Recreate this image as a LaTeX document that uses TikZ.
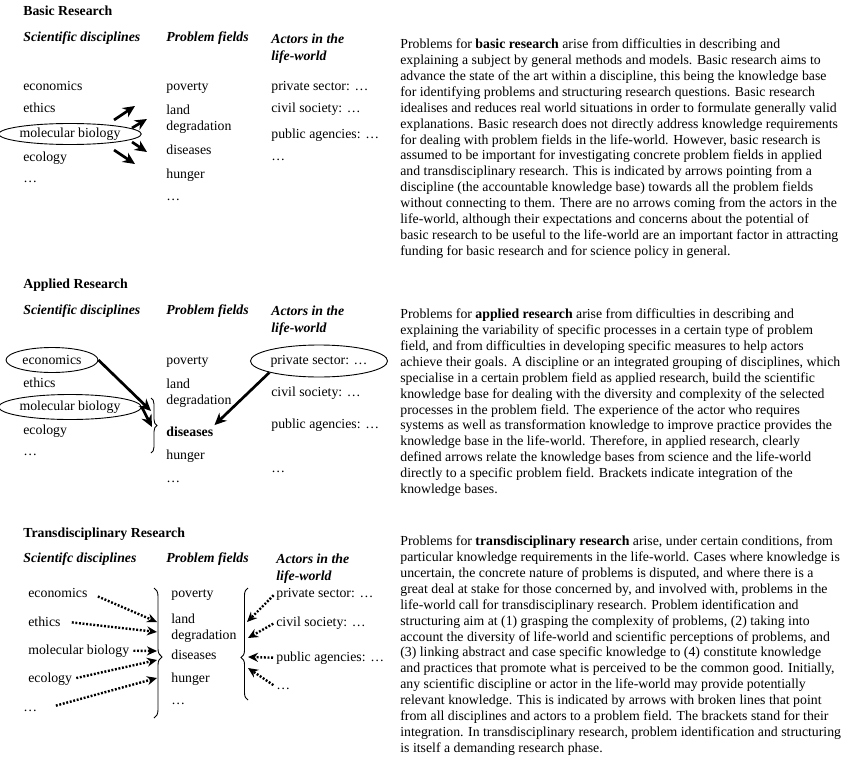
\documentclass[tikz,border=0pt]{standalone}
\usepackage{fontspec}
\setmainfont{Liberation Serif}
\usetikzlibrary{arrows.meta, positioning, shapes.geometric, decorations.pathreplacing}

\begin{document}
\begin{tikzpicture}[
                x = 1pt, y = -1pt, % measured from the top left corner
                > = {Stealth[length=12pt, width=11pt]}, % arrow head style
                shorten > = 0pt,
                line width = 2.7pt, % line style
                font = \fontsize{13.8}{15.9}\selectfont
                ]
                \tikzstyle{every node}=[inner sep=0pt, anchor=base west]
                \tikzstyle{title}=[font=\fontsize{13.8}{15.9}\selectfont\bfseries]
                \tikzstyle{head}=[font=\fontsize{13.8}{16.5}\selectfont\bfseries\itshape]
                \tikzstyle{twoline}=[align=left, anchor=north west]
                \tikzstyle{oval}=[draw, ellipse, line width=0.9pt, anchor=center]
                \tikzstyle{brace}=[decorate, line width=0.9pt]
                \tikzstyle{dotarrow}=[->, line width=2.4pt,
                    dash pattern=on 1.9pt off 1.7pt,
                    > = {Stealth[length=10pt, width=9pt]}]

                \useasboundingbox (0,0) rectangle (842,757);

                % basic research
                \node[title] (basic) at (22,16) {Basic Research};
                \node[head] (sd1) at (22,42) {Scientific disciplines};
                \node[head] (pf1) at (165,42) {Problem fields};
                \node[head, twoline] (al1) at (270,32.6) {Actors in the\\life-world};

                \node (econ1) at (22,91) {economics};
                \node (eth1) at (22,113) {ethics};
                \node[oval, minimum width=126pt, minimum height=21pt] (mb1) at (70,134) {molecular biology};
                \node (eco1) at (22,161) {ecology};
                \node (sdots1) at (22,182) {…};

                \node (pov1) at (165,91) {poverty};
                \node[twoline] (land1) at (165,103.6) {land\\degradation};
                \node (dis1) at (165,154) {diseases};
                \node (hun1) at (165,178) {hunger};
                \node (pdots1) at (165,200) {…};

                \node (priv1) at (270,91) {private sector: …};
                \node (civ1) at (270,113) {civil society: …};
                \node (pub1) at (270,138) {public agencies: …};
                \node (adots1) at (270,160) {…};

                \coordinate (b1s) at (114,120);
                \coordinate (b1e) at (135,106);
                \coordinate (b2s) at (132,128);
                \coordinate (b2e) at (147,119);
                \coordinate (b3s) at (132,142);
                \coordinate (b3e) at (147,152);
                \coordinate (b4s) at (114,150);
                \coordinate (b4e) at (135,164);
                \path[->] (b1s) edge (b1e)
                          (b2s) edge (b2e)
                          (b3s) edge (b3e)
                          (b4s) edge (b4e);

                \node[twoline] (txt1) at (399,37.6) {
                Problems for \textbf{basic research} arise from difficulties in describing and\\
                explaining a subject by general methods and models. Basic research aims to\\
                advance the state of the art within a discipline, this being the knowledge base\\
                for identifying problems and structuring research questions. Basic research\\
                idealises and reduces real world situations in order to formulate generally valid\\
                explanations. Basic research does not directly address knowledge requirements\\
                for dealing with problem fields in the life-world. However, basic research is\\
                assumed to be important for investigating concrete problem fields in applied\\
                and transdisciplinary research. This is indicated by arrows pointing from a\\
                discipline (the accountable knowledge base) towards all the problem fields\\
                without connecting to them. There are no arrows coming from the actors in the\\
                life-world, although their expectations and concerns about the potential of\\
                basic research to be useful to the life-world are an important factor in attracting\\
                funding for basic research and for science policy in general.};

                % applied research
                \node[title] (applied) at (22,288) {Applied Research};
                \node[head] (sd2) at (22,314) {Scientific disciplines};
                \node[head] (pf2) at (165,314) {Problem fields};
                \node[head, twoline] (al2) at (270,304.6) {Actors in the\\life-world};

                \node[oval, minimum width=92pt, minimum height=25pt] (econ2) at (52,360) {economics};
                \node (eth2) at (22,387) {ethics};
                \node[oval, minimum width=128pt, minimum height=25pt] (mb2) at (70,407) {molecular biology};
                \node (eco2) at (22,434) {ecology};
                \node (sdots2) at (22,455) {…};

                \node (pov2) at (165,364) {poverty};
                \node[twoline] (land2) at (165,377.6) {land\\degradation};
                \node[title] (dis2) at (165,436) {diseases};
                \node (hun2) at (165,459) {hunger};
                \node (pdots2) at (165,482) {…};

                \node[oval, minimum width=122pt, minimum height=32pt] (priv2) at (319,361) {private sector: …};
                \node (civ2) at (270,396) {civil society: …};
                \node (pub2) at (270,428) {public agencies: …};
                \node (adots2) at (270,472) {…};

                \coordinate (br2t) at (151,398);
                \coordinate (br2b) at (151,453);
                \draw[brace, decoration={brace, amplitude=6pt}] (br2t) -- (br2b);

                \coordinate (in1) at (151,411);
                \coordinate (in2) at (152,427);
                \path[->] (econ2.east) edge (in1)
                          (mb2.east) edge (in2)
                          (priv2.193) edge (dis2.north east);

                \node[twoline] (txt2) at (399,307.6) {
                Problems for \textbf{applied research} arise from difficulties in describing and\\
                explaining the variability of specific processes in a certain type of problem\\
                field, and from difficulties in developing specific measures to help actors\\
                achieve their goals. A discipline or an integrated grouping of disciplines, which\\
                specialise in a certain problem field as applied research, build the scientific\\
                knowledge base for dealing with the diversity and complexity of the selected\\
                processes in the problem field. The experience of the actor who requires\\
                systems as well as transformation knowledge to improve practice provides the\\
                knowledge base in the life-world. Therefore, in applied research, clearly\\
                defined arrows relate the knowledge bases from science and the life-world\\
                directly to a specific problem field. Brackets indicate integration of the\\
                knowledge bases.};

                % transdisciplinary research
                \node[title] (trans) at (22,537) {Transdisciplinary Research};
                \node[head] (sd3) at (22,562) {Scientifc disciplines};
                \node[head] (pf3) at (165,562) {Problem fields};
                \node[head, twoline] (al3) at (275,552.6) {Actors in the\\life-world};

                \node (econ3) at (27,597) {economics};
                \node (eth3) at (27,626) {ethics};
                \node (mb3) at (27,654) {molecular biology};
                \node (eco3) at (27,682) {ecology};
                \node (sdots3) at (22,711) {…};

                \node (pov3) at (170,597) {poverty};
                \node[twoline] (land3) at (170,612.6) {land\\degradation};
                \node (dis3) at (170,659) {diseases};
                \node (hun3) at (170,682) {hunger};
                \node (pdots3) at (170,704) {…};

                \node (priv3) at (275,597) {private sector: …};
                \node (civ3) at (275,626) {civil society: …};
                \node (pub3) at (275,661) {public agencies: …};
                \node (adots3) at (275,689) {…};

                \coordinate (br3t) at (154,588);
                \coordinate (br3b) at (154,718);
                \draw[brace, decoration={brace, amplitude=8pt, aspect=0.53}] (br3t) -- (br3b);
                \coordinate (br4b) at (248,700);
                \coordinate (br4t) at (248,588);
                \draw[brace, decoration={brace, amplitude=7pt, aspect=0.38}] (br4b) -- (br4t);

                \coordinate (tl1) at (157,622);
                \coordinate (tl2) at (157,632);
                \coordinate (tl3) at (157,651);
                \coordinate (tl4) at (157,660);
                \coordinate (tl5) at (157,678);
                \path[dotarrow] (econ3.east) edge[shorten <=10pt] (tl1)
                                (eth3.east) edge[shorten <=10pt] (tl2)
                                (mb3.east) edge[shorten <=3pt] (tl3)
                                (eco3.east) edge[shorten <=3pt] (tl4)
                                (sdots3.east) edge[shorten <=18pt] (tl5);

                \coordinate (tr1) at (247,622);
                \coordinate (tr2) at (248,638);
                \coordinate (tr3) at (248,657);
                \coordinate (tr4) at (248,668);
                \path[dotarrow] (priv3.west) edge[shorten <=2pt] (tr1)
                                (civ3.west) edge[shorten <=2pt] (tr2)
                                (pub3.west) edge[shorten <=2pt] (tr3)
                                (adots3.north west) edge[shorten <=2pt] (tr4);

                \node[twoline] (txt3) at (399,534.6) {
                Problems for \textbf{transdisciplinary research} arise, under certain conditions, from\\
                particular knowledge requirements in the life-world. Cases where knowledge is\\
                uncertain, the concrete nature of problems is disputed, and where there is a\\
                great deal at stake for those concerned by, and involved with, problems in the\\
                life-world call for transdisciplinary research. Problem identification and\\
                structuring aim at (1) grasping the complexity of problems, (2) taking into\\
                account the diversity of life-world and scientific perceptions of problems, and\\
                (3) linking abstract and case specific knowledge to (4) constitute knowledge\\
                and practices that promote what is perceived to be the common good. Initially,\\
                any scientific discipline or actor in the life-world may provide potentially\\
                relevant knowledge. This is indicated by arrows with broken lines that point\\
                from all disciplines and actors to a problem field. The brackets stand for their\\
                integration. In transdisciplinary research, problem identification and structuring\\
                is itself a demanding research phase.};
            \end{tikzpicture}
\end{document}
